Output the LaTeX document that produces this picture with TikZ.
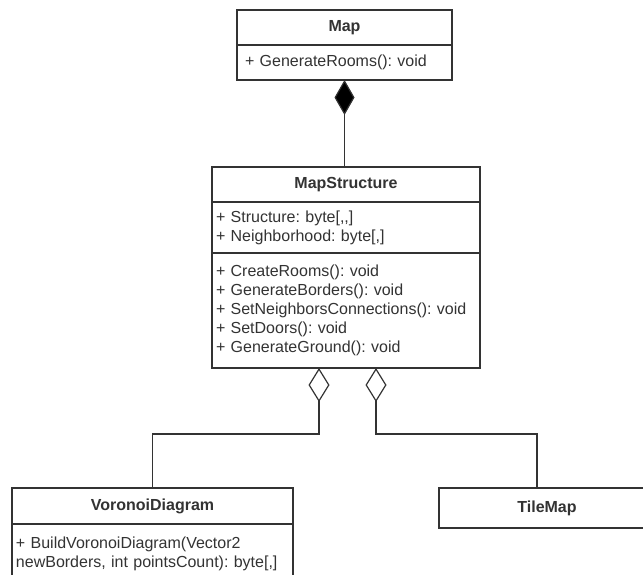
\documentclass[tikz,border=0pt]{standalone}
\usepackage{fontspec}
\setmainfont{Liberation Sans}
\usepackage{xcolor}
\usepackage{tikz}
\usetikzlibrary{arrows.meta,positioning,calc}
\definecolor{umlgray}{RGB}{51,51,51}
\frenchspacing

\begin{document}
\begin{tikzpicture}[
  x=0.75pt, y=-0.75pt,
  % ── class box styles ─────────────────────────────────────────────────────
  clshead/.style={
    draw=umlgray, line width=0.9pt, fill=white,
    rectangle, outer sep=0pt, inner sep=0pt,
    minimum height=26.25pt,
    font=\fontsize{12}{14.25}\selectfont\bfseries, text=umlgray
  },
  clsbody/.style={
    draw=umlgray, line width=0.9pt, fill=white,
    rectangle, outer sep=0pt, inner xsep=3pt, inner ysep=0pt,
    align=left,
    font=\fontsize{12}{14.25}\selectfont, text=umlgray
  },
  % composition (filled diamond) and aggregation (open diamond)
  compo/.style={
    draw=umlgray, line width=0.9pt,
    {Diamond[length=26.25pt,width=15pt,fill=black]}-
  },
  aggr/.style={
    draw=umlgray, line width=0.9pt,
    {Diamond[open,length=25.5pt,width=15.75pt]}-
  },
]

% ── Canvas ───────────────────────────────────────────────────────────────────
\path[use as bounding box] (0,0) rectangle (643,575);
\clip (0,0) rectangle (643,575);

% ── Map ──────────────────────────────────────────────────────────────────────
\node[clshead, minimum width=161.25pt] (map) at (344.5,27.5) {Map};
\node[clsbody, below=0pt of map, inner xsep=6pt, text width=149.25pt,
      minimum height=26.25pt] (mapops) {+ GenerateRooms(): void};

% ── MapStructure ─────────────────────────────────────────────────────────────
\node[clshead, minimum width=201pt] (ms) at (346,184.5) {MapStructure};
\node[clsbody, below=0pt of ms, text width=195pt, minimum height=38.25pt]
  (msattr) {+ Structure: byte[{,}{,}]\\+ Neighborhood: byte[,]};
\node[clsbody, below=0pt of msattr, text width=195pt, minimum height=86.25pt]
  (msops) {+ CreateRooms(): void\\
           + GenerateBorders(): void\\
           + SetNeighborsConnections(): void\\
           + SetDoors(): void\\
           + GenerateGround(): void};

% ── VoronoiDiagram ───────────────────────────────────────────────────────────
\node[clshead, minimum width=210.75pt, minimum height=27pt] (vd) at (152.5,506) {VoronoiDiagram};
\node[clsbody, below=0pt of vd, text width=204.75pt, minimum height=45pt]
  (vdops) {+ BuildVoronoiDiagram(Vector2\\newBorders, int pointsCount): byte[,]};

% ── TileMap ──────────────────────────────────────────────────────────────────
\node[clshead, minimum width=162pt, minimum height=30pt] (tm) at (547,508) {TileMap};

% ── Relations ────────────────────────────────────────────────────────────────
\draw[compo] (mapops.south) -- (mapops.south |- ms.north);
\draw[aggr] ($(msops.south)+(-27,0)$) -- ++(0,66) -| (vd.north);
\draw[aggr] ($(msops.south)+(30,0)$) -- ++(0,66) -| ([xshift=-7.5pt]tm.north);

\end{tikzpicture}
\end{document}
